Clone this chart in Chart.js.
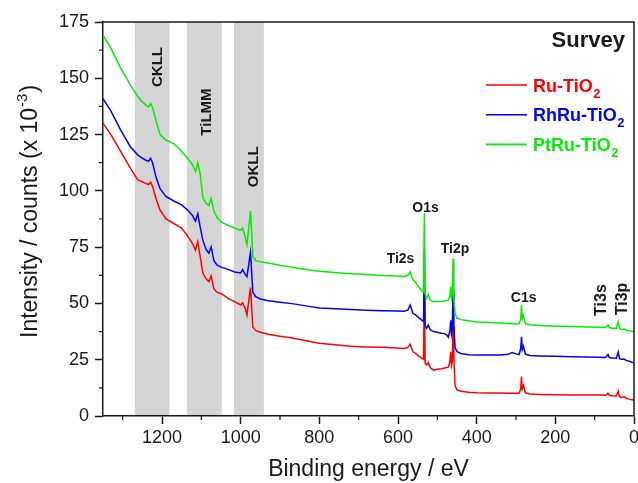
<!DOCTYPE html>
<html>
<head>
<meta charset="utf-8">
<script src="https://cdn.jsdelivr.net/npm/chart.js@4.4.1/dist/chart.umd.min.js"></script>
<style>
  html, body { margin: 0; padding: 0; background: #fff; }
</style>
</head>
<body>
<canvas id="survey" width="638" height="483"></canvas>
<script>
// binding energy grid (eV), shared by all three spectra
const energy = [
  1350, 1330, 1305, 1280, 1262, 1250, 1240, 1234, 1229, 1224,
  1215, 1205, 1190, 1170, 1150, 1135, 1122, 1115, 1109, 1103,
  1096, 1088, 1081, 1075, 1068, 1060, 1048, 1030, 1015, 1000,
  995, 989, 984, 975, 969, 962, 950, 930, 900, 865,
  830, 800, 760, 720, 680, 640, 603, 585, 575, 569,
  562, 556, 546, 539, 535, 533, 531, 527, 523, 518,
  510, 500, 490, 484, 476, 472, 468, 466, 464, 462,
  460, 458, 455, 450, 440, 420, 400, 370, 340, 320,
  310, 300, 292, 288, 286, 284, 281, 276, 265, 240,
  200, 160, 120, 90, 72, 66, 63, 55, 45, 40,
  37, 32, 25, 20, 12, 5, 0
];

// counts x 10^-3
const ruTiO2 = [
  130, 125, 117.5, 110, 105, 104, 103.2, 102.8, 103.8, 102,
  96.5, 91.5, 87.5, 85.5, 83.5, 80, 76.5, 73.7, 77.4, 71,
  63.4, 61, 59.7, 62.2, 56.5, 55, 54.2, 52, 50.8, 49.3,
  50.3, 48, 44.9, 57, 39.5, 38, 37.2, 36.3, 35.4, 34.5,
  33.3, 32.3, 31.6, 31, 30.7, 30.5, 30.2, 30, 30.4, 31.8,
  28.5, 27.9, 26.5, 25.6, 25.2, 58, 23.5, 22.7, 23.7, 21.5,
  20.4, 20.8, 21, 21.2, 21.5, 21.8, 24, 28.5, 22.5, 24,
  40, 26, 13.5, 11.6, 11, 10.5, 10.3, 10.2, 10.2, 10.1,
  10.1, 10.1, 10.2, 12, 17.5, 12, 13.5, 10.3, 9.8, 9.6,
  9.4, 9.3, 9.3, 9.3, 9.2, 10.1, 9.2, 9, 8.9, 11,
  8.6, 8.2, 8.6, 7.9, 7.5, 7.2, 7
];

const rhRuTiO2 = [
  141, 135.5, 127, 119.5, 116, 114.5, 113.5, 113.2, 114.5, 112.5,
  106, 101, 97.5, 95.5, 93.8, 91.5, 89, 86.5, 89.8, 84,
  78, 74, 72.3, 75.2, 69, 67, 66, 65, 64, 63.5,
  65, 63, 61.9, 72.6, 55, 53, 52, 51.2, 50.5, 49.8,
  48.8, 48, 47.6, 47.3, 47, 46.8, 46.6, 46.5, 47, 49.3,
  45.5, 45, 43.5, 42.5, 42, 74, 40, 39, 40.4, 38.3,
  37.5, 37.2, 36.8, 36.7, 36, 35, 38, 42.5, 36.5, 38.5,
  56, 41, 30.5, 28.6, 27.8, 27.2, 27.1, 27.1, 27.1, 27.4,
  28.2, 27.6, 27.3, 30, 35.2, 29.5, 31, 27.5, 26.9, 26.7,
  26.5, 26.3, 26.2, 26.1, 26, 27.3, 26, 25.8, 25.7, 28.5,
  25.5, 25.2, 25.3, 24.7, 24.3, 23.9, 23.7
];

const ptRuTiO2 = [
  169, 163.5, 154.5, 147, 142, 139.5, 138, 137.3, 138.8, 137,
  131, 125, 122.5, 121, 117.5, 114.5, 111.5, 108.5, 112.3, 107.5,
  97, 94.5, 93.5, 96.5, 91, 88, 86, 84.5, 83.5, 82.5,
  83.5, 80, 76, 91, 71, 69, 68.5, 68, 67, 66,
  65, 64.3, 63.7, 63.2, 62.8, 62.4, 62.2, 62, 62.5, 64,
  60.5, 59.5, 57, 55.5, 55, 90, 54, 52.3, 53.8, 51.5,
  50.8, 50.9, 51, 51.1, 51.3, 51.5, 53, 57.4, 52.5, 54,
  70, 52, 45.6, 43.5, 42.8, 42.3, 41.8, 41.5, 41.3, 41.1,
  41, 40.9, 41, 43, 49.3, 43, 44.5, 41, 40.5, 40.2,
  39.9, 39.7, 39.5, 39.4, 39.3, 40.4, 39.3, 39, 39, 42,
  39, 38.4, 38.6, 38.1, 37.9, 37.7, 37.5
];

const seriesNames = ['Ru-TiO2', 'RhRu-TiO2', 'PtRu-TiO2'];
const xTicks = [0, 200, 400, 600, 800, 1000, 1200];
const yTicks = [0, 25, 50, 75, 100, 125, 150, 175];

// Auger regions (eV from, to)
const augerNames = ['CKLL', 'TiLMM', 'OKLL'];
const augerBands = [[1269, 1181], [1137, 1048], [1017, 941]];

const peakNames = ['Ti2s', 'O1s', 'Ti2p', 'C1s', 'Ti3s', 'Ti3p'];

// where the labels sit, in eV / counts
const augerLabelAt = [[1200.8, 155], [1076, 135], [956.7, 110.7]];
const peakLabelAt = [[593.6, 68], [530, 90.6], [455, 72.6], [280.4, 50.6], [71.2, 51.5], [17.8, 52]];
const peakRotated = [false, false, false, false, true, true];

const fontFamily = '"Liberation Sans", Arial, Helvetica, sans-serif';
const ink = '#1a1a1a';

function pts(vals) {
  return energy.map((e, i) => ({ x: e, y: vals[i] }));
}

function upText(ctx, text, x, y, font) {
  ctx.save();
  ctx.translate(x, y);
  ctx.rotate(-Math.PI / 2);
  ctx.font = font;
  ctx.textAlign = 'center';
  ctx.textBaseline = 'alphabetic';
  ctx.fillText(text, 0, 0);
  ctx.restore();
}

// "TiO2" style label: trailing digit goes down as a subscript
function subText(ctx, text, x, y, size, color) {
  const m = text.match(/^(.*?)(\d)$/);
  ctx.fillStyle = color;
  ctx.textAlign = 'left';
  ctx.textBaseline = 'alphabetic';
  ctx.font = `bold ${size}px ${fontFamily}`;
  ctx.fillText(m[1], x, y);
  const w = ctx.measureText(m[1]).width;
  ctx.font = `bold ${Math.round(size * 0.7)}px ${fontFamily}`;
  ctx.fillText(m[2], x + w + 0.5, y + 6);
}

const bandsPlugin = {
  id: 'bands',
  beforeDraw(chart) {
    const { ctx, chartArea: a, scales: { x } } = chart;
    ctx.save();
    ctx.fillStyle = '#fff';
    ctx.fillRect(0, 0, chart.width, chart.height);
    ctx.fillStyle = '#d4d4d4';
    augerBands.forEach(([from, to]) => {
      const x1 = x.getPixelForValue(from);
      const x2 = x.getPixelForValue(to);
      ctx.fillRect(x1, a.top, x2 - x1, a.bottom - a.top);
    });
    ctx.restore();
  }
};

const decorPlugin = {
  id: 'decor',
  afterDraw(chart) {
    const { ctx, chartArea: a, scales: { x, y } } = chart;
    ctx.save();

    // closing frame on top and right
    ctx.strokeStyle = ink;
    ctx.lineWidth = 1.5;
    ctx.beginPath();
    ctx.moveTo(a.left, a.top);
    ctx.lineTo(a.right, a.top);
    ctx.lineTo(a.right, a.bottom);
    ctx.stroke();

    // minor ticks
    ctx.lineWidth = 1.2;
    ctx.beginPath();
    for (let i = 0; i < yTicks.length - 1; i++) {
      const py = y.getPixelForValue((yTicks[i] + yTicks[i + 1]) / 2);
      ctx.moveTo(a.left - 4, py);
      ctx.lineTo(a.left, py);
    }
    for (let v = 100; v < x.max; v += 200) {
      const px = x.getPixelForValue(v);
      ctx.moveTo(px, a.bottom);
      ctx.lineTo(px, a.bottom + 4);
    }
    ctx.stroke();

    // Auger region names
    ctx.fillStyle = ink;
    augerNames.forEach((name, i) => {
      const [e, c] = augerLabelAt[i];
      upText(ctx, name, x.getPixelForValue(e), y.getPixelForValue(c), `bold 15px ${fontFamily}`);
    });

    // core level peaks
    peakNames.forEach((name, i) => {
      const px = x.getPixelForValue(peakLabelAt[i][0]);
      const py = y.getPixelForValue(peakLabelAt[i][1]);
      if (peakRotated[i]) {
        upText(ctx, name, px, py, `bold 16px ${fontFamily}`);
      } else {
        ctx.font = `bold 14px ${fontFamily}`;
        ctx.textAlign = 'center';
        ctx.textBaseline = 'alphabetic';
        ctx.fillText(name, px, py);
      }
    });

    // panel title
    ctx.font = `bold 22px ${fontFamily}`;
    ctx.textAlign = 'right';
    ctx.fillText('Survey', a.right - 9, a.top + 25);

    // legend
    chart.data.datasets.forEach((ds, i) => {
      const ly = a.top + 63 + i * 29.7;
      ctx.strokeStyle = ds.borderColor;
      ctx.lineWidth = 1.6;
      ctx.beginPath();
      ctx.moveTo(a.right - 148, ly);
      ctx.lineTo(a.right - 107, ly);
      ctx.stroke();
      subText(ctx, ds.label, a.right - 101, ly + 6.5, 18, ds.borderColor);
    });

    // y axis title with superscript exponent
    ctx.translate(36.5, 338);
    ctx.rotate(-Math.PI / 2);
    ctx.fillStyle = ink;
    ctx.textAlign = 'left';
    ctx.textBaseline = 'alphabetic';
    ctx.font = `23px ${fontFamily}`;
    const main = 'Intensity / counts (x 10';
    ctx.fillText(main, 0, 0);
    let w = ctx.measureText(main).width + 1;
    ctx.font = `15px ${fontFamily}`;
    ctx.fillText('-3', w, -10);
    w += ctx.measureText('-3').width + 1;
    ctx.font = `23px ${fontFamily}`;
    ctx.fillText(')', w, 0);

    ctx.restore();
  }
};

const lineStyle = { borderWidth: 1.5, pointRadius: 0, tension: 0, fill: false };

new Chart(document.getElementById('survey'), {
  type: 'line',
  data: {
    datasets: [
      { label: seriesNames[0], data: pts(ruTiO2), borderColor: '#ff0000', order: 2, ...lineStyle },
      { label: seriesNames[1], data: pts(rhRuTiO2), borderColor: '#0000ff', order: 1, ...lineStyle },
      { label: seriesNames[2], data: pts(ptRuTiO2), borderColor: '#00f000', order: 0, ...lineStyle }
    ]
  },
  options: {
    responsive: false,
    animation: false,
    layout: { padding: { left: 0, top: 22, right: 4, bottom: 0 } },
    plugins: { legend: { display: false }, tooltip: { enabled: false } },
    scales: {
      x: {
        type: 'linear',
        reverse: true,
        min: 0,
        max: 1350,
        afterBuildTicks: (scale) => {
          scale.ticks = xTicks.map(v => ({ value: v }));
        },
        afterFit: (scale) => {
          scale.height = 67;
          scale.paddingLeft = 0;
          scale.paddingRight = 0;
        },
        ticks: {
          autoSkip: false,
          maxRotation: 0,
          padding: 3,
          color: ink,
          font: { size: 18, family: fontFamily },
          callback: (v) => String(v)
        },
        grid: { drawOnChartArea: false, drawTicks: true, tickLength: 8, tickColor: ink, tickWidth: 1.5 },
        border: { display: true, color: ink, width: 1.5 },
        title: {
          display: true,
          text: 'Binding energy / eV',
          color: ink,
          padding: { top: 0, bottom: 0 },
          font: { size: 23, family: fontFamily }
        }
      },
      y: {
        min: 0,
        max: 175,
        afterBuildTicks: (scale) => {
          scale.ticks = yTicks.map(v => ({ value: v }));
        },
        afterFit: (scale) => {
          scale.width = 103;
        },
        ticks: {
          padding: 6,
          color: ink,
          font: { size: 18, family: fontFamily },
          callback: (v) => String(v)
        },
        grid: { drawOnChartArea: false, drawTicks: true, tickLength: 8, tickColor: ink, tickWidth: 1.5 },
        border: { display: true, color: ink, width: 1.5 }
      }
    }
  },
  plugins: [bandsPlugin, decorPlugin]
});
</script>
</body>
</html>
